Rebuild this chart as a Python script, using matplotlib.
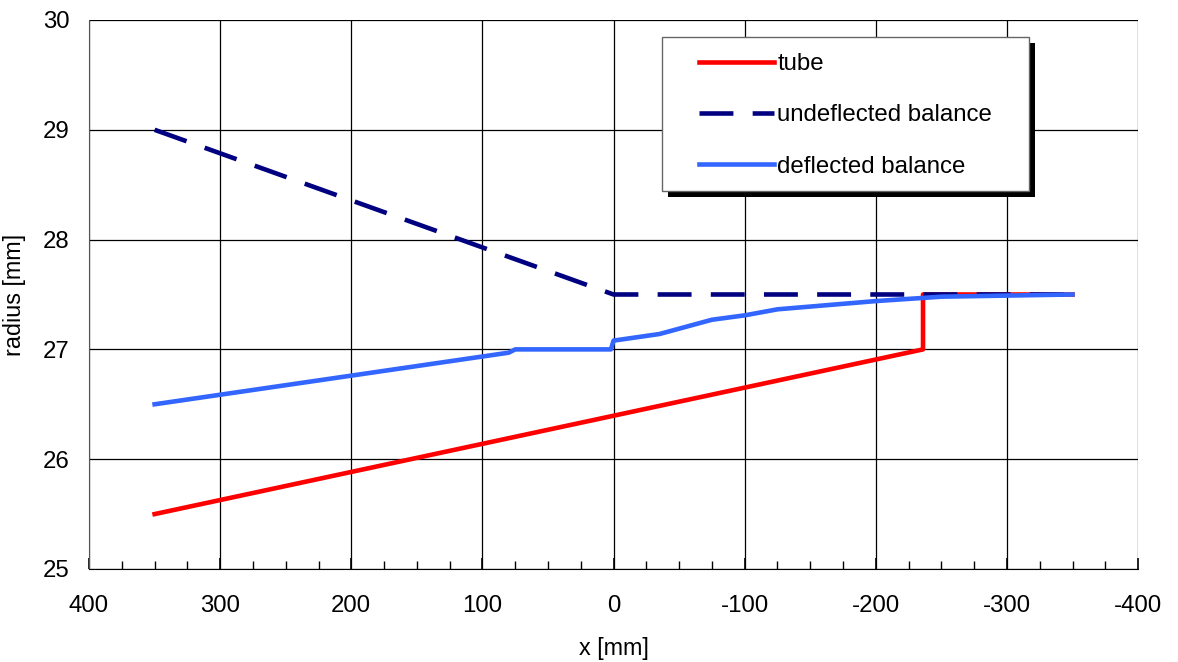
import matplotlib.pyplot as plt
import matplotlib.patheffects as pe
from matplotlib.patches import Rectangle
from matplotlib.ticker import MultipleLocator

plt.rcParams['font.family'] = ['Liberation Sans', 'DejaVu Sans']
plt.rcParams['axes.unicode_minus'] = False

# data
tube_x = [350, -236, -236, -350]
tube_y = [25.5, 27.0, 27.5, 27.5]

undefl_x = [350, 0, -350]
undefl_y = [29.0, 27.5, 27.5]

defl_x = [350, 80, 75, 2, 0, -35, -75, -100, -125, -200, -250, -350]
defl_y = [26.5, 26.97, 27.0, 27.0, 27.08, 27.14, 27.27, 27.31, 27.365, 27.44, 27.48, 27.5]

fig = plt.figure(figsize=(11.78, 6.62), dpi=100)
ax = fig.add_axes([0.0756, 0.1405, 0.8905, 0.8293])

ax.plot(tube_x, tube_y, color='#FF0000', lw=3.3, label='tube', zorder=3)
ax.plot(undefl_x, undefl_y, color='#000080', lw=3.3, dashes=(7.4, 4.2),
        label='undeflected balance', zorder=3)
ax.plot(defl_x, defl_y, color='#3366FF', lw=3.3, label='deflected balance', zorder=3)

ax.set_xlim(400, -400)
ax.set_ylim(25, 30)
ax.xaxis.set_major_locator(MultipleLocator(100))
ax.xaxis.set_minor_locator(MultipleLocator(25))
ax.yaxis.set_major_locator(MultipleLocator(1))

ax.grid(True, color='black', lw=0.9, zorder=1)
ax.get_xgridlines()[-1].set_visible(False)
ax.spines['right'].set_visible(False)
ax.spines['top'].set_visible(False)
ax.spines['left'].set_color('#555555')

ax.tick_params(axis='x', which='major', direction='in', length=8, width=1.2,
               labelsize=17.3, pad=19)
ax.tick_params(axis='x', which='minor', direction='in', length=6, width=1)
ax.tick_params(axis='y', which='major', direction='in', length=0,
               labelsize=17.3, pad=14)

ax.set_xlabel('x [mm]', fontsize=16.8, labelpad=14)
ax.set_ylabel('radius [mm]', fontsize=16.8, labelpad=12)

# legend box with a hard shadow
box = Rectangle((0.546, 0.689), 0.35, 0.28, transform=ax.transAxes,
                facecolor='white', edgecolor='#666666', lw=1, zorder=5)
box.set_path_effects([pe.SimplePatchShadow(offset=(4.5, -4.5), shadow_rgbFace='black', alpha=1),
                      pe.Normal()])
ax.add_patch(box)

leg = ax.legend(loc='upper left', bbox_to_anchor=(0.5815, 0.94), frameon=False,
                fontsize=17.3, handlelength=3.1, handletextpad=0.15,
                labelspacing=1.22, borderpad=0, borderaxespad=0)
leg.set_zorder(6)

fig.savefig('out.png', dpi=100)
